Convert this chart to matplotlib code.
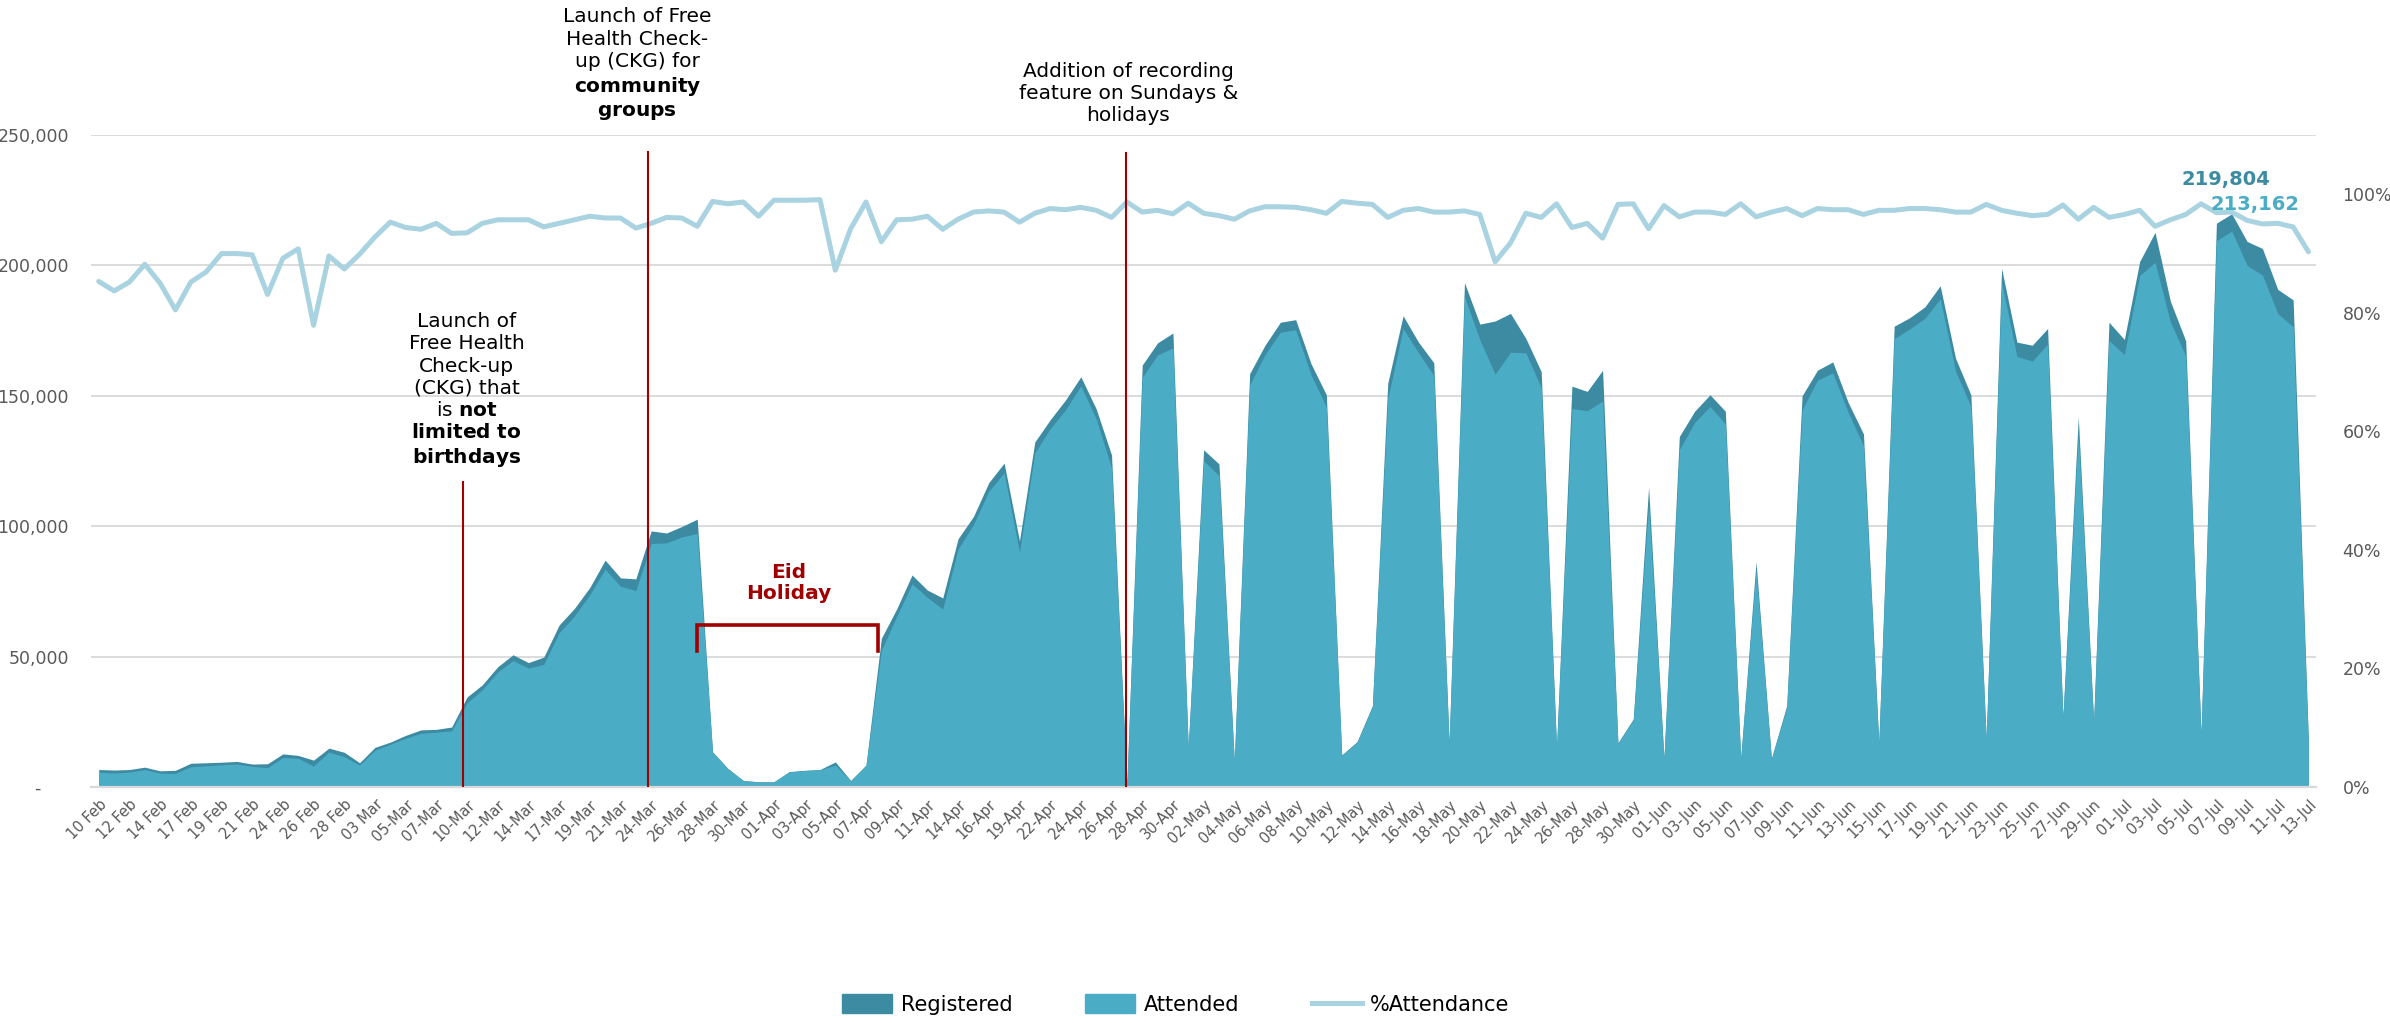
import numpy as np
import pandas as pd
import matplotlib
matplotlib.use("Agg")
import matplotlib.pyplot as plt
from matplotlib.patches import Patch
from matplotlib.lines import Line2D
from matplotlib.ticker import FuncFormatter

plt.rcParams['font.family'] = ['DejaVu Sans']

# ------------------------------------------------------------------
# categories : daily 10 Feb -> 13 Jul, days without reporting dropped
# ------------------------------------------------------------------
start_date = '2025-02-10'
end_date = '2025-07-13'
skipped_dates = ['2025-02-16', '2025-02-23', '2025-03-02', '2025-03-09',
                 '2025-03-16', '2025-03-23', '2025-04-13', '2025-04-18',
                 '2025-04-20']

dates = pd.date_range(start_date, end_date)
dates = dates[~dates.isin(pd.to_datetime(skipped_dates))]

# ------------------------------------------------------------------
# series
# ------------------------------------------------------------------
registered = [6700, 6500, 6700, 7600, 6200, 6400, 9100, 9300, 9500, 9800,
              8800, 8900, 12700, 12100, 10300, 14900, 13300, 9300, 15200, 17200,
              19800, 21900, 22100, 23000, 34500, 39200, 46100, 50700, 47700, 49800,
              62100, 68500, 76500, 87000, 80200, 79800, 98200, 97400, 99900, 102700,
              13500, 7100, 2500, 2000, 2000, 5900, 6400, 6700, 9600, 2500,
              8400, 57000, 68300, 81300, 75500, 72500, 95200, 103700, 116700, 124200,
              94400, 132300, 140800, 148400, 157300, 145000, 127300, 1000, 161800, 170300,
              174100, 15200, 129300, 123900, 10100, 158500, 169400, 178200, 179200, 162300,
              150400, 12300, 17400, 31200, 154800, 180700, 170600, 162700, 16900, 193400,
              177500, 178700, 181600, 172000, 159300, 15200, 153700, 151700, 159800, 16900,
              26100, 115000, 11000, 134400, 144100, 150400, 144100, 11000, 86300, 11000,
              31200, 150000, 159800, 163000, 147500, 135400, 16900, 176700, 179900, 184100,
              192200, 164400, 150400, 18500, 198900, 170600, 169400, 175800, 27000, 141900,
              25300, 178200, 171600, 201500, 212700, 186300, 171100, 20200, 216200, 219804,
              209200, 206500, 190800, 186800, 17000]

attended = [5700, 5400, 5700, 6700, 5300, 5200, 7800, 8100, 8500, 8800,
            7900, 7400, 11300, 11000, 8000, 13400, 11600, 8400, 14100, 16400,
            18700, 20600, 21000, 21500, 32200, 37300, 44100, 48500, 45600, 47000,
            59100, 65600, 73700, 83500, 77000, 75300, 93400, 93600, 95900, 97200,
            13300, 7000, 2500, 1900, 2000, 5800, 6300, 6600, 8400, 2400,
            8300, 52400, 65400, 77900, 72700, 68200, 91200, 100600, 113400, 120500,
            90000, 128100, 137400, 144600, 153800, 141100, 122300, 1000, 157000, 165700,
            168400, 15000, 125100, 119400, 9700, 154100, 165800, 174400, 175300, 158100,
            145600, 12200, 17100, 30700, 148800, 175800, 166500, 157800, 16400, 188000,
            171500, 158300, 166700, 166500, 153100, 15000, 145100, 144300, 148000, 16600,
            25700, 108300, 10800, 129300, 139800, 145900, 139200, 10800, 83000, 10700,
            30500, 144600, 156000, 158800, 143700, 130800, 16400, 171900, 175600, 179700,
            187200, 159500, 145900, 18200, 193500, 165100, 163300, 169800, 26500, 135900,
            24700, 171300, 165800, 196100, 201200, 178300, 165300, 19900, 209500, 213162,
            200000, 196300, 181500, 176500, 15400]

pct_attendance = [0.853, 0.837, 0.852, 0.882, 0.850, 0.805, 0.852, 0.869, 0.900, 0.900,
                  0.898, 0.831, 0.892, 0.908, 0.779, 0.896, 0.874, 0.899, 0.928, 0.953,
                  0.944, 0.941, 0.951, 0.934, 0.935, 0.951, 0.957, 0.957, 0.957, 0.945,
                  0.951, 0.957, 0.963, 0.960, 0.960, 0.943, 0.951, 0.961, 0.960, 0.946,
                  0.988, 0.984, 0.987, 0.963, 0.990, 0.990, 0.990, 0.991, 0.872, 0.942,
                  0.987, 0.920, 0.957, 0.958, 0.963, 0.941, 0.958, 0.970, 0.972, 0.970,
                  0.953, 0.968, 0.976, 0.974, 0.978, 0.973, 0.961, 0.987, 0.970, 0.973,
                  0.967, 0.985, 0.968, 0.964, 0.958, 0.972, 0.979, 0.979, 0.978, 0.974,
                  0.968, 0.988, 0.985, 0.983, 0.961, 0.973, 0.976, 0.970, 0.970, 0.972,
                  0.966, 0.886, 0.918, 0.968, 0.961, 0.984, 0.944, 0.951, 0.926, 0.983,
                  0.984, 0.942, 0.981, 0.962, 0.970, 0.970, 0.966, 0.984, 0.962, 0.970,
                  0.976, 0.964, 0.976, 0.974, 0.974, 0.966, 0.973, 0.973, 0.976, 0.976,
                  0.974, 0.970, 0.970, 0.983, 0.973, 0.968, 0.964, 0.966, 0.982, 0.958,
                  0.978, 0.961, 0.966, 0.973, 0.946, 0.957, 0.966, 0.984, 0.969, 0.970,
                  0.956, 0.950, 0.951, 0.945, 0.903]

peak_index = 139  # 08-Jul, labelled values

# colours
col_reg = '#3C8BA3'
col_att = '#4BACC6'
col_pct = '#A9D3E0'
col_red = '#A00000'
col_grid = '#D9D9D9'
col_tick = '#595959'

x = np.arange(len(dates))
tick_pos = x[::2]
tick_labels = [d.strftime('%d %b') if i < 20 else d.strftime('%d-%b')
               for i, d in zip(tick_pos, dates[::2])]

# ------------------------------------------------------------------
# figure
# ------------------------------------------------------------------
fig = plt.figure(figsize=(23.9, 10.23), dpi=100)
ax = fig.add_axes([0.0381, 0.2307, 0.931, 0.6373])

ax.fill_between(x, registered, color=col_reg, lw=0)
ax.fill_between(x, attended, color=col_att, lw=0)

ax.set_xlim(-0.5, len(x) - 0.5)
ax.set_ylim(0, 250000)
ax.set_yticks(np.arange(0, 250001, 50000))
ax.yaxis.set_major_formatter(FuncFormatter(lambda v, p: '-     ' if v == 0 else f'{v:,.0f}'))
ax.yaxis.grid(True, color=col_grid, lw=1.3)
ax.set_axisbelow(True)

ax.set_xticks(tick_pos, tick_labels, rotation=45, ha='right', rotation_mode='anchor')
ax.tick_params(axis='x', length=0, pad=7, labelsize=10.5, labelcolor=col_tick)
ax.tick_params(axis='y', length=0, pad=16, labelsize=12.5, labelcolor=col_tick)

for s in ['top', 'left', 'right']:
    ax.spines[s].set_visible(False)
ax.spines['bottom'].set_color(col_grid)
ax.spines['bottom'].set_linewidth(1.6)

# % attendance on the secondary axis
ax2 = ax.twinx()
ax2.plot(x, pct_attendance, color=col_pct, lw=3.6,
         solid_joinstyle='round', solid_capstyle='round')
ax2.set_ylim(0, 1.1)
ax2.set_yticks(np.arange(0, 1.01, 0.2))
ax2.yaxis.set_major_formatter(FuncFormatter(lambda v, p: f'{v:.0%}'))
ax2.tick_params(axis='y', length=0, pad=19, labelsize=12.5, labelcolor=col_tick)
for s in ax2.spines.values():
    s.set_visible(False)

# ------------------------------------------------------------------
# annotations (drawn on ax2 so they sit above the line)
# ------------------------------------------------------------------
td = ax.transData

ax2.plot([23.72, 23.72], [0, 117000], color=col_red, lw=1.5, transform=td)
ax2.plot([35.77, 35.77], [0, 243500], color=col_red, lw=1.5, transform=td)
ax2.plot([66.95, 66.95], [0, 243300], color=col_red, lw=1.5, transform=td)

ax2.text(23.97, 152000,
         "Launch of\nFree Health\nCheck-up\n(CKG) that\nis $\\mathbf{not}$\n"
         "$\\mathbf{limited\\ to}$\n$\\mathbf{birthdays}$",
         ha='center', va='center', fontsize=14.5, linespacing=1.22,
         transform=td, clip_on=False)

ax2.text(35.1, 277000,
         "Launch of Free\nHealth Check-\nup (CKG) for\n$\\mathbf{community}$\n$\\mathbf{groups}$",
         ha='center', va='center', fontsize=14.5, linespacing=1.22,
         transform=td, clip_on=False)

ax2.text(67.1, 266000, "Addition of recording\nfeature on Sundays &\nholidays",
         ha='center', va='center', fontsize=14.5, linespacing=1.22,
         transform=td, clip_on=False)

# Eid holiday bracket
ax2.plot([39.0, 39.0, 50.8, 50.8], [52100, 62100, 62100, 52100],
         color=col_red, lw=2.6, transform=td, solid_joinstyle='miter')
ax2.text(44.95, 78200, "Eid\nHoliday", ha='center', va='center', fontsize=14.5,
         fontweight='bold', color=col_red, linespacing=1.15, transform=td)

# peak labels
ax2.annotate(f'{registered[peak_index]:,}', xy=(peak_index, registered[peak_index]),
             xycoords=td, xytext=(-4, 25), textcoords='offset points',
             ha='center', va='center', fontsize=14, fontweight='bold', color=col_reg)
ax2.annotate(f'{attended[peak_index]:,}', xy=(peak_index, attended[peak_index]),
             xycoords=td, xytext=(17, 19), textcoords='offset points',
             ha='center', va='center', fontsize=14, fontweight='bold', color=col_att)

# legend
handles = [Patch(color=col_reg), Patch(color=col_att),
           Line2D([], [], color=col_pct, lw=3.6)]
fig.legend(handles, ['Registered', 'Attended', '%Attendance'],
           loc='center', bbox_to_anchor=(0.492, 0.018), ncol=3, frameon=False,
           fontsize=15, handlelength=2.4, handleheight=1.0,
           columnspacing=3.5, handletextpad=0.4)

fig.savefig('out.png', dpi=100)
